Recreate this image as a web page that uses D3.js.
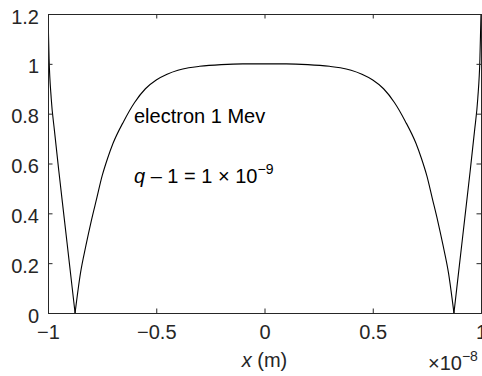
<!DOCTYPE html>
<html>
<head>
<meta charset="utf-8">
<script src="https://cdn.jsdelivr.net/npm/d3@7"></script>
<style>
  body { margin: 0; background: #fff; }
  svg { display: block; font-family: "Liberation Sans", Arial, sans-serif; }
</style>
</head>
<body>
<div id="chart"></div>
<script>
// values (x in units of 1e-8 m)
const xs = [-1, -0.995, -0.985, -0.97, -0.95, -0.925, -0.9, -0.875, -0.85, -0.825, -0.8, -0.775, -0.75, -0.725,
            -0.7, -0.65, -0.6, -0.55, -0.5, -0.45, -0.4, -0.35, -0.3, -0.2, -0.1, 0,
            0.1, 0.2, 0.3, 0.35, 0.4, 0.45, 0.5, 0.55, 0.6, 0.65, 0.7, 0.725, 0.75, 0.775, 0.8,
            0.825, 0.85, 0.875, 0.9, 0.925, 0.95, 0.97, 0.985, 0.995, 1];
const ys = [1.2, 1.02, 0.86, 0.73, 0.57, 0.38, 0.19, 0, 0.16, 0.27, 0.37, 0.46, 0.55, 0.62,
            0.68, 0.77, 0.845, 0.9, 0.935, 0.958, 0.974, 0.984, 0.99, 0.997, 1, 1,
            1, 0.997, 0.99, 0.984, 0.974, 0.958, 0.935, 0.9, 0.845, 0.77, 0.68, 0.62, 0.55, 0.46, 0.37,
            0.27, 0.16, 0, 0.19, 0.38, 0.57, 0.73, 0.86, 1.02, 1.2];
const xTicks = [-1, -0.5, 0, 0.5, 1];
const xTickLabels = ["\u22121", "\u22120.5", "0", "0.5", "1"];
const yTicks = [0, 0.2, 0.4, 0.6, 0.8, 1, 1.2];
const yTickLabels = ["0", "0.2", "0.4", "0.6", "0.8", "1", "1.2"];

const W = 482, H = 376;
const margin = {top: 14, right: 1, bottom: 63, left: 48};
const axisColor = "#262626";

const svg = d3.select("#chart").append("svg")
    .attr("width", W)
    .attr("height", H);

const x = d3.scaleLinear().domain([-1, 1]).range([margin.left, W - margin.right]);
const y = d3.scaleLinear().domain([0, 1.2]).range([H - margin.bottom, margin.top]);

svg.append("clipPath").attr("id", "clip")
    .append("rect")
    .attr("x", x(-1)).attr("y", y(1.2))
    .attr("width", x(1) - x(-1)).attr("height", y(0) - y(1.2));

// curve: split at the two zeros so the V corners stay sharp
const data = xs.map((v, i) => ({x: v, y: ys[i]}));
const zeros = [];
ys.forEach((v, i) => { if (v === 0) zeros.push(i); });
const pieces = [
    data.slice(0, zeros[0] + 1),
    data.slice(zeros[0], zeros[1] + 1),
    data.slice(zeros[1])
];
const line = d3.line().x(d => x(d.x)).y(d => y(d.y)).curve(d3.curveMonotoneX);
svg.append("g").attr("clip-path", "url(#clip)")
    .selectAll("path")
    .data(pieces)
    .join("path")
    .attr("fill", "none")
    .attr("stroke", "#000")
    .attr("stroke-width", 1.1)
    .attr("d", line);

// bottom axis + labels
const xAxis = svg.append("g")
    .attr("transform", `translate(0, ${y(0)})`)
    .call(d3.axisBottom(x).tickValues(xTicks).tickSize(-4.5).tickPadding(12)
          .tickFormat((d, i) => xTickLabels[i]));
// top axis (ticks only)
const xTop = svg.append("g")
    .attr("transform", `translate(0, ${y(1.2)})`)
    .call(d3.axisTop(x).tickValues(xTicks).tickSize(-4.5).tickFormat(""));
// left axis
const yAxis = svg.append("g")
    .attr("transform", `translate(${x(-1)}, 0)`)
    .call(d3.axisLeft(y).tickValues(yTicks).tickSize(-4.5).tickPadding(9)
          .tickFormat((d, i) => yTickLabels[i]));
// right axis (ticks only)
const yRight = svg.append("g")
    .attr("transform", `translate(${x(1)}, 0)`)
    .call(d3.axisRight(y).tickValues(yTicks).tickSize(-4.5).tickFormat(""));

[xAxis, xTop, yAxis, yRight].forEach(g => {
    g.select(".domain").attr("stroke", axisColor).attr("stroke-width", 1);
    g.selectAll(".tick line").attr("stroke", axisColor).attr("stroke-width", 1);
    g.selectAll(".tick text").attr("fill", axisColor).style("font-size", "20px")
        .style("font-family", "'Liberation Sans', Arial, sans-serif");
});
yAxis.selectAll(".tick text").attr("dy", "0.45em");

// x label
const xl = svg.append("text")
    .attr("x", (x(-1) + x(1)) / 2)
    .attr("y", 367)
    .attr("text-anchor", "middle")
    .attr("fill", axisColor)
    .style("font-size", "20px");
xl.append("tspan").style("font-style", "italic").text("x");
xl.append("tspan").text(" (m)");

// exponent label
const ex = svg.append("text")
    .attr("x", 428)
    .attr("y", 370)
    .attr("fill", axisColor)
    .style("font-size", "20px");
ex.append("tspan").text("\u00d710");
ex.append("tspan").attr("dy", -9).style("font-size", "14px").text("\u22128");

// annotations
svg.append("text")
    .attr("x", 134)
    .attr("y", 123)
    .attr("fill", "#000")
    .style("font-size", "20px")
    .text("electron 1 Mev");

const q = svg.append("text")
    .attr("x", 134)
    .attr("y", 183)
    .attr("fill", "#000")
    .style("font-size", "20px");
q.append("tspan").style("font-style", "italic").text("q");
q.append("tspan").text(" \u2013 1 = 1 \u00d7 10");
q.append("tspan").attr("dy", -9).style("font-size", "14px").text("\u22129");
</script>
</body>
</html>
